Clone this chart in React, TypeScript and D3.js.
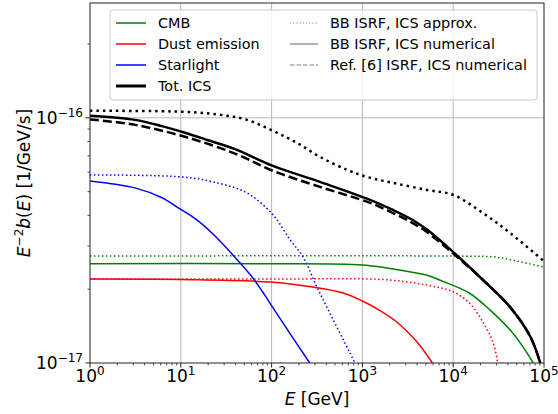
import React from 'react';
import * as d3 from 'd3';

const W = 558;
const H = 414;
const margin = { left: 90, right: 14, top: 3, bottom: 51 };

// energies [GeV] and E^-2 b(E) [1/GeV/s]
const totApproxE = [1, 11.1, 27, 53.6, 103.5, 190, 341, 676, 1120, 2170, 5140, 9950, 21300, 42300, 100000];
const totApproxB = [1.068e-16, 1.058e-16, 1.029e-16, 9.81e-17, 8.85e-17, 7.91e-17, 6.93e-17, 6.14e-17, 5.74e-17, 5.43e-17, 5.08e-17, 4.85e-17, 4.09e-17, 3.39e-17, 2.6e-17];

const totNumE = [1, 3.13, 6.2, 11.1, 20, 39.5, 103.5, 341, 1213, 2170, 3500, 5140, 9950, 21300, 42300, 70800, 91000];
const totNumB = [1.02e-16, 9.81e-17, 9.25e-17, 8.69e-17, 8.1e-17, 7.45e-17, 6.37e-17, 5.48e-17, 4.63e-17, 4.21e-17, 3.85e-17, 3.5e-17, 2.84e-17, 2.18e-17, 1.69e-17, 1.28e-17, 1.0e-17];

const totRefE = [1, 3.13, 11.1, 39.5, 103.5, 341, 1213, 2170, 3500, 5140, 9950, 21300, 42300, 70800, 91000];
const totRefB = [9.85e-17, 9.36e-17, 8.37e-17, 7.15e-17, 6.08e-17, 5.23e-17, 4.5e-17, 4.09e-17, 3.74e-17, 3.42e-17, 2.8e-17, 2.18e-17, 1.69e-17, 1.28e-17, 1.0e-17];

const starNumE = [1, 3.13, 6.2, 9.8, 14.5, 22.6, 37.5, 62.4, 95.5, 159, 263];
const starNumB = [5.53e-17, 5.18e-17, 4.72e-17, 4.25e-17, 3.87e-17, 3.36e-17, 2.76e-17, 2.22e-17, 1.76e-17, 1.32e-17, 1.0e-17];

const starApproxE = [1, 10.3, 22.6, 53.6, 103.5, 160, 222, 316, 830];
const starApproxB = [5.85e-17, 5.74e-17, 5.48e-17, 4.94e-17, 4.02e-17, 3.18e-17, 2.71e-17, 2.04e-17, 1.0e-17];

const cmbNumE = [1, 100, 1000, 2170, 5140, 7760, 15000, 25700, 42700, 59000, 76000];
const cmbNumB = [2.54e-17, 2.54e-17, 2.51e-17, 2.42e-17, 2.28e-17, 2.15e-17, 1.93e-17, 1.64e-17, 1.36e-17, 1.16e-17, 1.0e-17];

const cmbApproxE = [1, 10000, 27500, 42300, 100000];
const cmbApproxB = [2.73e-17, 2.73e-17, 2.71e-17, 2.64e-17, 2.46e-17];

const dustNumE = [1, 10, 95.5, 286, 616, 1000, 1550, 2450, 3980, 5900];
const dustNumB = [2.2e-17, 2.19e-17, 2.14e-17, 2.04e-17, 1.93e-17, 1.79e-17, 1.64e-17, 1.46e-17, 1.22e-17, 1.0e-17];

const dustApproxE = [1, 100, 2000, 6600, 10000, 15000, 21400, 27500, 31000];
const dustApproxB = [2.2e-17, 2.2e-17, 2.18e-17, 2.04e-17, 1.95e-17, 1.76e-17, 1.46e-17, 1.21e-17, 1.0e-17];

const xTicks = [0, 1, 2, 3, 4, 5];
const yTicks = [-17, -16];

const legendLeft = ['CMB', 'Dust emission', 'Starlight', 'Tot. ICS'];
const legendLeftColors = ['green', 'red', 'blue', 'black'];
const legendRight = ['BB ISRF, ICS approx.', 'BB ISRF, ICS numerical', 'Ref. [6] ISRF, ICS numerical'];

const FONT = 'DejaVu Sans';

export default function App() {
  const x = d3.scaleLog().domain([1, 1e5]).range([margin.left, W - margin.right]);
  const y = d3.scaleLog().domain([1e-17, 2.94e-16]).range([H - margin.bottom, margin.top]);
  const line = d3.line<[number, number]>()
    .x(d => x(d[0]))
    .y(d => y(d[1]))
    .curve(d3.curveCatmullRom.alpha(0.5));
  const path = (es: number[], bs: number[]) => line(es.map((e, i) => [e, bs[i]]) as [number, number][]) || '';

  const dotThin = '1.5,2.5';
  const dotThick = '2.5,4';
  const series = [
    { e: cmbApproxE, b: cmbApproxB, c: 'green', w: 1.5, dash: dotThin },
    { e: dustApproxE, b: dustApproxB, c: 'red', w: 1.5, dash: dotThin },
    { e: starApproxE, b: starApproxB, c: 'blue', w: 1.5, dash: dotThin },
    { e: totApproxE, b: totApproxB, c: 'black', w: 2.5, dash: dotThick },
    { e: cmbNumE, b: cmbNumB, c: 'green', w: 1.5, dash: '' },
    { e: dustNumE, b: dustNumB, c: 'red', w: 1.5, dash: '' },
    { e: starNumE, b: starNumB, c: 'blue', w: 1.5, dash: '' },
    { e: totRefE, b: totRefB, c: 'black', w: 2.5, dash: '9,4' },
    { e: totNumE, b: totNumB, c: 'black', w: 2.5, dash: '' },
  ];

  const [x0, x1] = x.range();
  const [y0, y1] = y.range();
  const minorX: number[] = [];
  for (let k = 0; k < 5; k++) for (let m = 2; m < 10; m++) minorX.push(m * 10 ** k);
  const minorY = [2, 3, 4, 5, 6, 7, 8, 9, 20].map(m => m * 1e-17);

  return (
    <svg width={W} height={H} style={{ display: 'block', position: 'absolute', left: 0, top: 0 }} fontFamily={FONT}>
      <rect width={W} height={H} fill="white" />
      <defs>
        <clipPath id="plot">
          <rect x={x0} y={y1} width={x1 - x0} height={y0 - y1} />
        </clipPath>
      </defs>
      {/* grid */}
      {xTicks.slice(1, -1).map(k => (
        <line key={'gx' + k} x1={x(10 ** k)} x2={x(10 ** k)} y1={y0} y2={y1} stroke="#b0b0b0" strokeWidth={0.9} />
      ))}
      <line x1={x0} x2={x1} y1={y(1e-16)} y2={y(1e-16)} stroke="#b0b0b0" strokeWidth={0.9} />

      <g clipPath="url(#plot)" fill="none">
        {series.map((s, i) => (
          <path key={i} d={path(s.e, s.b)} stroke={s.c} strokeWidth={s.w} strokeDasharray={s.dash || undefined} />
        ))}
      </g>

      {/* axes frame */}
      <rect x={x0} y={y1} width={x1 - x0} height={y0 - y1} fill="none" stroke="#222" strokeWidth={1} />

      {/* ticks */}
      {xTicks.map(k => (
        <g key={'xt' + k}>
          <line x1={x(10 ** k)} x2={x(10 ** k)} y1={y0} y2={y0 + 4.5} stroke="#222" />
          <text x={x(10 ** k)} y={y0 + 19} textAnchor="middle" fontSize={17}>
            10<tspan dy={-7} fontSize={12}>{k}</tspan>
          </text>
        </g>
      ))}
      {minorX.map(v => (
        <line key={'mx' + v} x1={x(v)} x2={x(v)} y1={y0} y2={y0 + 2.5} stroke="#222" strokeWidth={0.8} />
      ))}
      {yTicks.map(k => (
        <g key={'yt' + k}>
          <line x1={x0} x2={x0 - 4.5} y1={y(10 ** k)} y2={y(10 ** k)} stroke="#222" />
          <text x={x0 - 7} y={y(10 ** k) + 6} textAnchor="end" fontSize={17}>
            10<tspan dy={-7} fontSize={12}>{'\u2212' + Math.abs(k)}</tspan>
          </text>
        </g>
      ))}
      {minorY.map(v => (
        <line key={'my' + v} x1={x0} x2={x0 - 2.5} y1={y(v)} y2={y(v)} stroke="#222" strokeWidth={0.8} />
      ))}

      {/* axis labels */}
      <text x={(x0 + x1) / 2} y={405} textAnchor="middle" fontSize={17}>
        <tspan fontStyle="italic">E</tspan> [GeV]
      </text>
      <text transform={`translate(30,${(y0 + y1) / 2}) rotate(-90)`} textAnchor="middle" fontSize={17}>
        <tspan fontStyle="italic">E</tspan>
        <tspan dy={-7} fontSize={12}>{'\u22122'}</tspan>
        <tspan dy={7} fontStyle="italic">b</tspan>(<tspan fontStyle="italic">E</tspan>) [1/GeV/s]
      </text>

      {/* legend */}
      <g fontSize={14.4}>
        <rect x={110} y={10} width={427} height={90} rx={3} fill="white" fillOpacity={0.8} stroke="#cccccc" />
        {legendLeft.map((t, i) => (
          <g key={t}>
            <line x1={116} x2={146} y1={23 + i * 21} y2={23 + i * 21} stroke={legendLeftColors[i]} strokeWidth={i === 3 ? 3 : 1.5} />
            <text x={158} y={28 + i * 21}>{t}</text>
          </g>
        ))}
        {legendRight.map((t, i) => (
          <g key={t}>
            <line x1={290} x2={318} y1={23 + i * 21} y2={23 + i * 21} stroke="gray" strokeWidth={1.2}
              strokeDasharray={i === 0 ? '1.2,2' : i === 2 ? '4.5,2' : undefined} />
            <text x={330} y={28 + i * 21}>{t}</text>
          </g>
        ))}
      </g>
    </svg>
  );
}
